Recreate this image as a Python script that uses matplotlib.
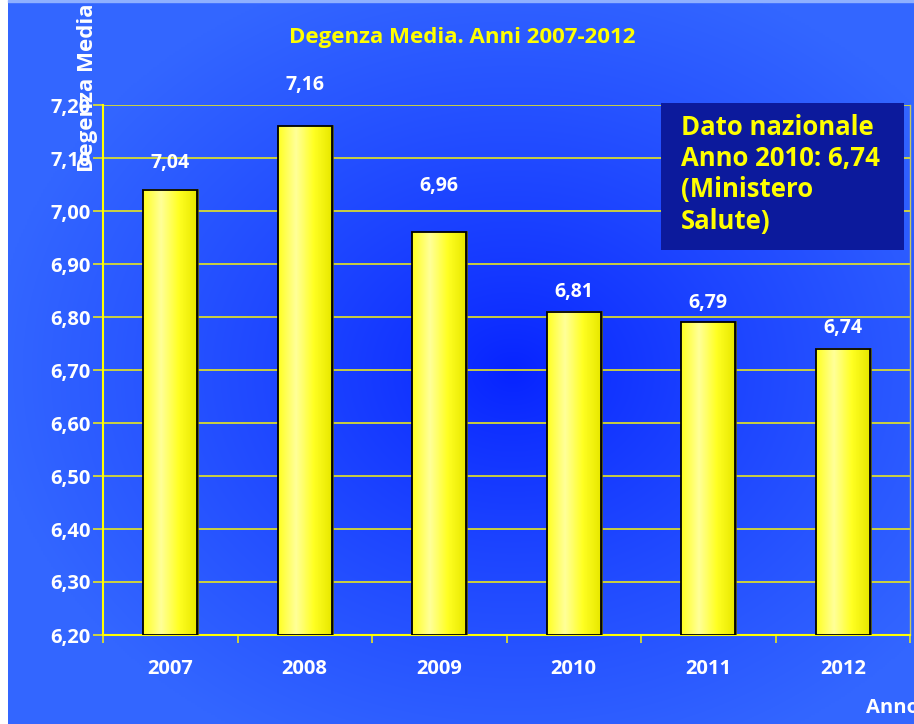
import numpy as np
import matplotlib.pyplot as plt
from matplotlib.patches import Rectangle
from matplotlib.colors import LinearSegmentedColormap

# degenza media per anno
anni = ['2007', '2008', '2009', '2010', '2011', '2012']
degenza = [7.04, 7.16, 6.96, 6.81, 6.79, 6.74]
# distanza etichetta-barra (pt)
label_off = [19, 30, 33, 14, 14, 15]

y_ticks = np.arange(6.2, 7.21, 0.1)

FONT = 'Open Sans'
YEL = '#ffff00'

fig = plt.figure(figsize=(9.14, 7.24), dpi=100)
fig.patch.set_facecolor('white')

# sfondo con sfumatura radiale
bg = fig.add_axes([8 / 914, 0, 1 - 8 / 914, 1 - 2 / 724], zorder=-10)
xx, yy = np.meshgrid(np.linspace(0, 906, 453), np.linspace(0, 722, 361))
r = np.sqrt(((xx - 505) / 520) ** 2 + ((yy - 370) / 420) ** 2)
r = np.clip(r, 0, 1) ** 0.8
c_in = np.array([0x06, 0x22, 0xff]) / 255
c_out = np.array([0x33, 0x66, 0xff]) / 255
img = c_in[None, None, :] * (1 - r[..., None]) + c_out[None, None, :] * r[..., None]
bg.imshow(img, aspect='auto', extent=(0, 1, 0, 1), interpolation='bilinear')
bg.set_axis_off()
fig.patches.append(Rectangle((8 / 914, 1 - 2 / 724), 1, 2 / 724,
                             transform=fig.transFigure, color='#8fb0ff', zorder=-9))

ax = fig.add_axes([103 / 914, 89 / 724, 807 / 914, 530 / 724])
ax.patch.set_alpha(0)

x = np.arange(len(anni))
bar_w = 0.4

# barre gialle con sfumatura orizzontale
cmap = LinearSegmentedColormap.from_list('giallo', ['#ffff22', '#ffff99', '#ffff22', '#e8e800'])
grad = np.linspace(0, 1, 64)[None, :]
for xi, v in zip(x, degenza):
    ax.imshow(grad, cmap=cmap, aspect='auto', zorder=3,
              extent=(xi - bar_w / 2, xi + bar_w / 2, 6.2, v))
    ax.add_patch(Rectangle((xi - bar_w / 2, 6.2), bar_w, v - 6.2, fill=False,
                           edgecolor='black', lw=1.3, zorder=4))
    ax.plot([xi + bar_w / 2 + 0.008] * 2, [6.2, v], color='#555500', lw=1.2, zorder=3)
ax.set_xlim(-0.5, len(anni) - 0.5)
ax.set_ylim(6.2, 7.2)

for xi, v, off in zip(x, degenza, label_off):
    ax.annotate(f'{v:.2f}'.replace('.', ','), (xi, v), xytext=(0, off),
                textcoords='offset points', ha='center', va='center',
                color='white', fontsize=14, fontweight='bold', family=FONT, zorder=5)

# griglia e assi
for t in y_ticks[1:]:
    ax.axhline(t, color='#e6e620', lw=1.2, zorder=1)
ax.set_yticks(y_ticks)
ax.set_yticklabels([f'{t:.2f}'.replace('.', ',') for t in y_ticks])
ax.set_xticks(np.arange(len(anni) + 1) - 0.5, minor=True)
ax.set_xticks(x)
ax.set_xticklabels(anni)
ax.tick_params(axis='x', which='major', length=0, pad=17)
ax.tick_params(axis='x', which='minor', length=6, color='#e6e620', width=1.2)
ax.tick_params(axis='y', length=7, color='#e6e620', width=1.2, pad=2)
for lab in ax.get_xticklabels() + ax.get_yticklabels():
    lab.set_color('white')
    lab.set_fontsize(14.5)
    lab.set_fontweight('bold')
    lab.set_family(FONT)
for s in ['left', 'bottom']:
    ax.spines[s].set_color('#ffff00')
    ax.spines[s].set_linewidth(1.5)
ax.spines['right'].set_color('#c8c860')
ax.spines['right'].set_linewidth(1)
ax.spines['top'].set_visible(False)

fig.text(462 / 914, 1 - 38 / 724, 'Degenza Media. Anni 2007-2012', ha='center', va='center',
         color=YEL, fontsize=16, fontweight='bold', family=FONT)
fig.text(88 / 914, 1 - 3 / 724, 'Degenza Media', rotation=90, ha='center', va='top',
         color='white', fontsize=16, fontweight='bold', family=FONT)
fig.text(866 / 914, 1 - 708 / 724, 'Anno', ha='left', va='center',
         color='white', fontsize=14.5, fontweight='bold', family=FONT)

# riquadro dato nazionale
fig.patches.append(Rectangle((661 / 914, 1 - 250 / 724), 243 / 914, 147 / 724,
                             transform=fig.transFigure, facecolor='#0c1a9c',
                             edgecolor='none', zorder=5))
fig.text(681 / 914, 1 - 114 / 724, 'Dato nazionale\nAnno 2010: 6,74\n(Ministero\nSalute)',
         ha='left', va='top', color=YEL, fontsize=18.5, fontweight='bold', family=FONT,
         linespacing=1.2, zorder=6)

fig.savefig('out.png', dpi=100)
